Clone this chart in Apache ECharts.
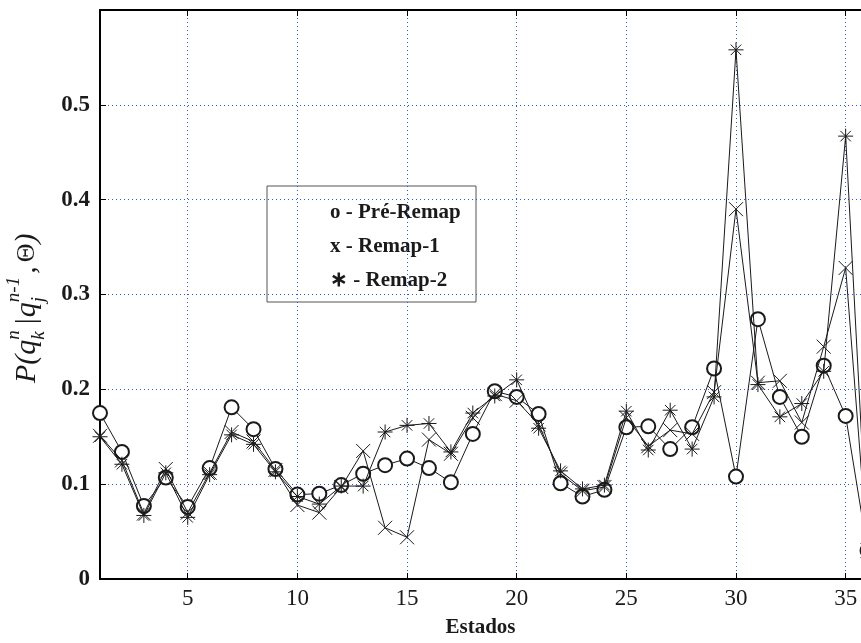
<!DOCTYPE html>
<html>
<head>
<meta charset="utf-8">
<script src="https://cdn.jsdelivr.net/npm/echarts@6/dist/echarts.min.js"></script>
<style>
  html, body { margin: 0; padding: 0; background: #fff; }
  #chart { width: 861px; height: 643px; }
</style>
</head>
<body>
<div id="chart"></div>
<script>
// states 1..36 (the last one is cut off by the right edge)
const estados = [1,2,3,4,5,6,7,8,9,10,11,12,13,14,15,16,17,18,19,20,21,22,23,24,25,26,27,28,29,30,31,32,33,34,35,36];
const preRemap = [0.175,0.134,0.077,0.107,0.076,0.117,0.181,0.158,0.116,0.089,0.090,0.099,0.111,0.120,0.127,0.117,0.102,0.153,0.198,0.192,
                  0.174,0.101,0.087,0.094,0.160,0.161,0.137,0.160,0.222,0.108,0.274,0.192,0.150,0.225,0.172,0.030];
const remap1 = [0.151,0.125,0.069,0.116,0.070,0.112,0.155,0.145,0.115,0.078,0.070,0.097,0.135,0.054,0.044,0.147,0.132,0.170,0.195,0.188,
                0.163,0.111,0.093,0.097,0.170,0.140,0.157,0.153,0.197,0.390,0.207,0.209,0.165,0.245,0.328,0.030];
const remap2 = [0.150,0.121,0.067,0.112,0.065,0.110,0.152,0.142,0.113,0.087,0.079,0.098,0.098,0.155,0.162,0.164,0.134,0.175,0.193,0.210,
                0.159,0.114,0.095,0.099,0.177,0.136,0.178,0.137,0.192,0.558,0.205,0.171,0.185,0.219,0.467,0.030];
const xTicks = [5,10,15,20,25,30,35];
const legendLines = ['o - Pré-Remap', 'x - Remap-1', '\u2217 - Remap-2'];

const FONT = '"Liberation Serif", "Times New Roman", serif';
const INK = '#1a1a1a';
const GRID_BLUE = '#2a5ae0';

const chart = echarts.init(document.getElementById('chart'), null, { renderer: 'canvas' });

const pairs = arr => arr.map((v, i) => [estados[i], v]);

// y axis label with super/subscripts, built piece by piece
const mctx = document.createElement('canvas').getContext('2d');
function tw(text, font) { mctx.font = font; return mctx.measureText(text).width; }
function yLabelChildren() {
  const kids = [];
  let cx = 0;
  const put = (t, size, dy, st) => {
    const font = `${st || 'italic'} ${size}px ${FONT}`;
    kids.push({ type: 'text', x: cx, y: dy, style: { text: t, font: font, fill: INK, verticalAlign: 'middle', align: 'left' } });
    return tw(t, font);
  };
  const stack = (sup, sub) => {
    const a = put(sup, 19, -13);
    const b = put(sub, 19, 12);
    cx += Math.max(a, b);
  };
  cx += put('P(q', 30, 0);
  stack('n', 'k');
  cx += 6;
  cx += put('|', 30, 0, 'normal') + 1;
  cx += put('q', 30, 0);
  stack('n-1', 'j');
  cx += 3;
  cx += put(',', 30, 0) + 4;
  cx += put('\u0398', 26, 0, 'normal');
  put(')', 30, 0);
  return kids;
}

const lineBase = {
  type: 'line',
  xAxisIndex: 0,
  yAxisIndex: 0,
  color: INK,
  clip: false,
  lineStyle: { color: INK, width: 1 },
  emphasis: { disabled: true },
  animation: false
};

const option = {
  backgroundColor: '#fff',
  animation: false,
  grid: { left: 100, top: 10, right: 0, bottom: 64, containLabel: false },
  xAxis: [
    {
      type: 'value', min: 1, max: 35.7, position: 'bottom',
      axisLine: { show: true, onZero: false, lineStyle: { color: '#000', width: 2 } },
      axisTick: { show: true, inside: true, length: 6, customValues: xTicks, lineStyle: { color: '#000', width: 1 } },
      axisLabel: { customValues: xTicks, margin: 8, color: INK, fontFamily: FONT, fontSize: 23 },
      splitLine: { show: true, lineStyle: { color: GRID_BLUE, type: [1, 3], width: 1 } },
      name: 'Estados', nameLocation: 'middle', nameGap: 38,
      nameTextStyle: { color: INK, fontFamily: FONT, fontSize: 21, fontWeight: 'bold' }
    },
    {
      type: 'value', min: 1, max: 35.7, position: 'top',
      axisLine: { show: true, onZero: false, lineStyle: { color: '#000', width: 2 } },
      axisTick: { show: true, inside: true, length: 6, customValues: xTicks, lineStyle: { color: '#000', width: 1 } },
      axisLabel: { show: false },
      splitLine: { show: false }
    }
  ],
  yAxis: {
    type: 'value', min: 0, max: 0.6, interval: 0.1,
    axisLine: { show: true, onZero: false, lineStyle: { color: '#000', width: 2 } },
    axisTick: { show: true, inside: true, length: 6, lineStyle: { color: '#000', width: 1 } },
    axisLabel: {
      margin: 10, color: INK, fontFamily: FONT, fontSize: 23, fontWeight: 'bold',
      formatter: v => (v > 0.55 ? '' : (v === 0 ? '0' : v.toFixed(1)))
    },
    splitLine: { show: true, lineStyle: { color: GRID_BLUE, type: [1, 3], width: 1 } }
  },
  series: [
    Object.assign({}, lineBase, {
      name: 'Pré-Remap', data: pairs(preRemap), z: 2,
      symbol: 'emptyCircle', symbolSize: 14,
      itemStyle: { color: INK, borderColor: INK, borderWidth: 0.8 }
    }),
    Object.assign({}, lineBase, {
      name: 'Remap-1', data: pairs(remap1), z: 3,
      symbol: 'path://M0,0L10,10M10,0L0,10', symbolSize: 14,
      itemStyle: { color: INK, borderColor: INK, borderWidth: 1 }
    }),
    Object.assign({}, lineBase, {
      name: 'Remap-2', data: pairs(remap2), z: 4,
      symbol: 'path://M5,0L5,10M0,5L10,5M1.5,1.5L8.5,8.5M8.5,1.5L1.5,8.5', symbolSize: 15,
      itemStyle: { color: INK, borderColor: INK, borderWidth: 1 }
    })
  ],
  graphic: [
    {
      type: 'group', x: 27, y: 383, rotation: Math.PI / 2,
      children: yLabelChildren()
    },
    {
      type: 'group', x: 267, y: 186, z: 100,
      children: [
        { type: 'rect', shape: { x: 0, y: 0, width: 209, height: 116 }, style: { fill: '#fff', stroke: '#555', lineWidth: 1 } }
      ].concat(legendLines.map((t, i) => ({
        type: 'text', x: 63, y: 27 + i * 34,
        style: { text: t, font: `bold 21px ${FONT}`, fill: INK, verticalAlign: 'middle', align: 'left' }
      })))
    }
  ]
};

chart.setOption(option);
</script>
</body>
</html>
